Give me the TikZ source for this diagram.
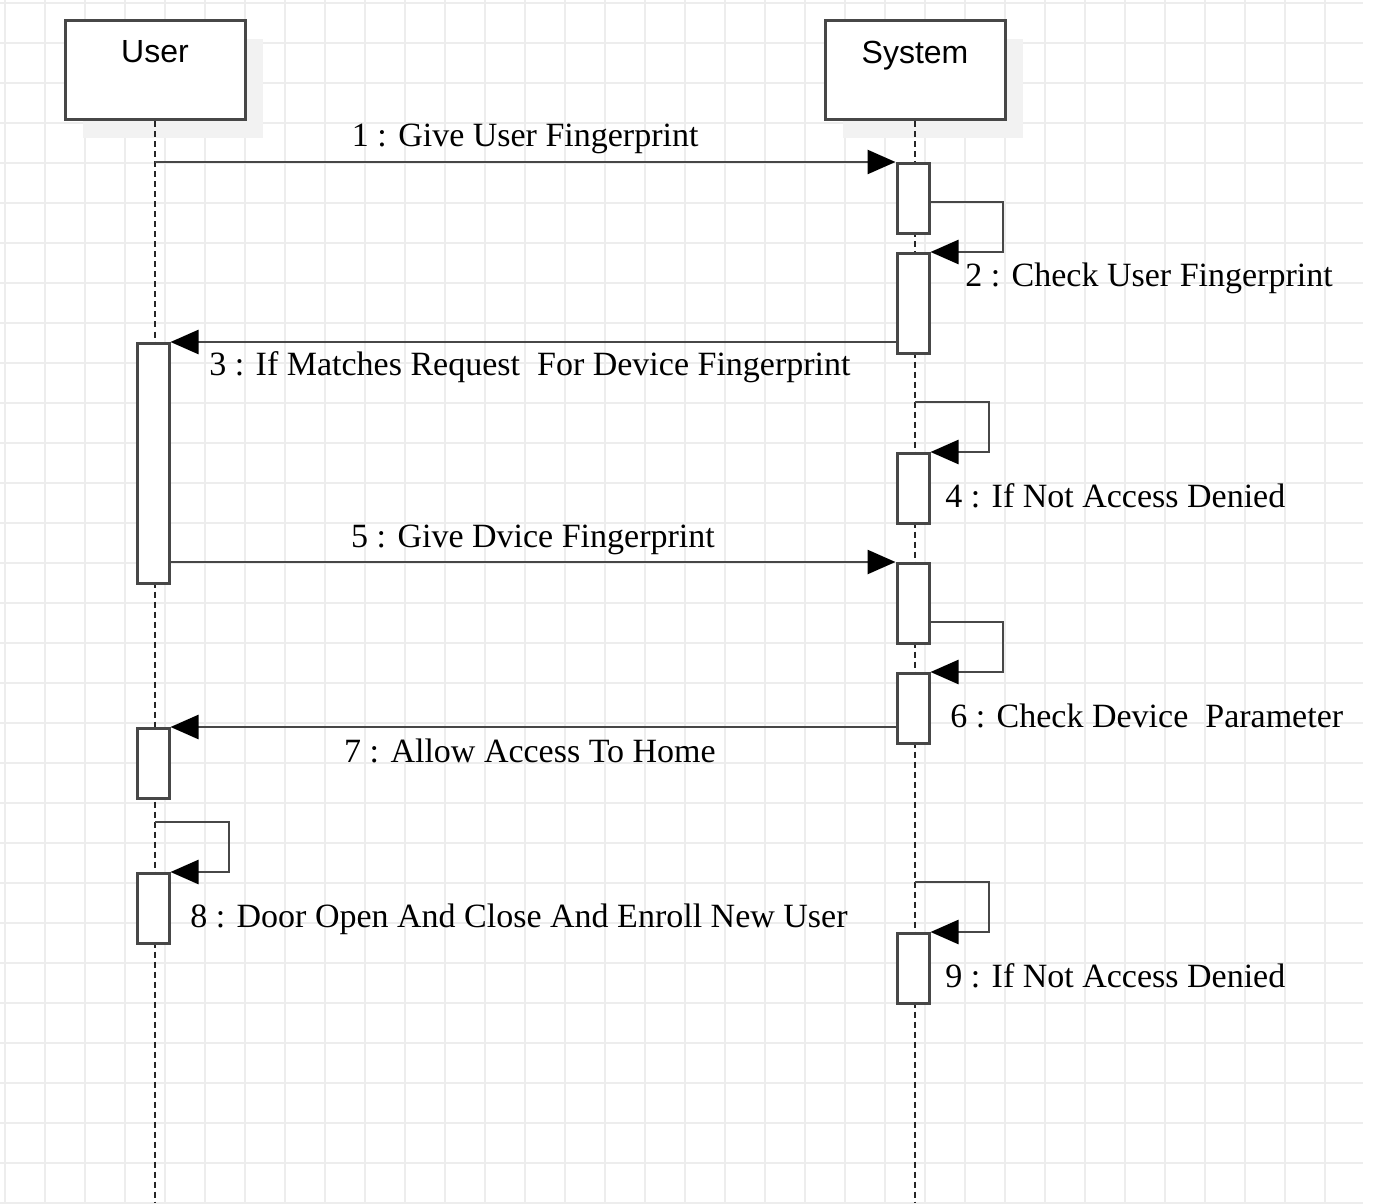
\documentclass[tikz,border=0pt]{standalone}
\usepackage{fontspec}
\setmainfont{Liberation Serif}
\newfontfamily\headfont{Liberation Sans}
\usetikzlibrary{
  arrows.meta,
  shadows,
  }

\tikzset{
  gridline/.style={draw=black!7, line width=0.8pt},
  lifehead/.style={draw=black!72, line width=1.5pt, fill=white,
    minimum width=90pt, minimum height=49.5pt, inner sep=0pt,
    general shadow={fill=black!5, shadow xshift=9pt, shadow yshift=-9pt}},
  headlabel/.style={font=\headfont\fontsize{16}{18}\selectfont,
    anchor=north, inner sep=0pt, yshift=-10.5pt},
  lifeline/.style={draw=black!85, line width=1pt, dash pattern=on 3pt off 2pt},
  act/.style={draw=black!72, line width=1.5pt, fill=white,
    minimum width=16pt, inner sep=0pt, anchor=north},
  msg/.style={draw=black!72, line width=1.3pt,
    -{Triangle[length=14pt, width=12pt, color=black]}},
  msglabel/.style={font=\fontsize{17}{19}\selectfont, inner sep=0pt, anchor=base},
}

\begin{document}
\begin{tikzpicture}[x=0.5pt, y=-0.5pt]
                    \useasboundingbox (0,0) rectangle (1395,1203);
                    \foreach \gx in {5,45,...,1325}
                        \draw[gridline] (\gx,0) -- (\gx,1203);
                    \foreach \gy in {3,43,...,1203}
                        \draw[gridline] (0,\gy) -- (1363,\gy);

                    \node[lifehead, label={[headlabel]north:User}] (user) at (155,70.5) {};
                    \node[lifehead, label={[headlabel]north:System}] (system) at (915,70.5) {};
                    \draw[lifeline] (user.south) -- (user.south |- 0,1203);
                    \draw[lifeline] (system.south) -- (system.south |- 0,1203);

                    \node[act, minimum height=35pt] (s1) at (913,162) {};
                    \node[act, minimum height=50pt] (s2) at (913,252) {};
                    \node[act, minimum height=120pt] (u3) at (153,342) {};
                    \node[act, minimum height=35pt] (s4) at (913,452) {};
                    \node[act, minimum height=40pt] (s5) at (913,562) {};
                    \node[act, minimum height=35pt] (s6) at (913,672) {};
                    \node[act, minimum height=35pt] (u7) at (153,727) {};
                    \node[act, minimum height=35pt] (u8) at (153,872) {};
                    \node[act, minimum height=35pt] (s9) at (913,932) {};

                    \draw[msg] (user.south |- s1.north) -- (s1.north west)
                        node[msglabel, midway, yshift=7.5pt] {1 : Give User Fingerprint};
                    \draw[msg] (s1.east |- 0,202) -- (1003,202) |- (s2.north east);
                    \node[msglabel, anchor=base west] (l2) at (965,287) {2 : Check User Fingerprint};
                    \draw[msg] (s2.west |- u3.north) -- (u3.north east)
                        node[msglabel, midway, xshift=-1.5pt, yshift=-16.5pt] {3 : If Matches Request\ \ For Device Fingerprint};
                    \draw[msg] (system.south |- 0,402) -- (989,402) |- (s4.north east);
                    \node[msglabel, anchor=base west] (l4) at (945,507) {4 : If Not Access Denied};
                    \draw[msg] (u3.east |- s5.north) -- (s5.north west)
                        node[msglabel, midway, yshift=7.5pt] {5 : Give Dvice Fingerprint};
                    \draw[msg] (s5.east |- 0,622) -- (1003,622) |- (s6.north east);
                    \node[msglabel, anchor=base west] (l6) at (950,727) {6 : Check Device\ \ Parameter};
                    \draw[msg] (s6.west |- u7.north) -- (u7.north east)
                        node[msglabel, midway, xshift=-1.5pt, yshift=-17.5pt] {7 : Allow Access To Home};
                    \draw[msg] (user.south |- 0,822) -- (229,822) |- (u8.north east);
                    \node[msglabel, anchor=base west] (l8) at (190,927) {8 : Door Open And Close And Enroll New User};
                    \draw[msg] (system.south |- 0,882) -- (989,882) |- (s9.north east);
                    \node[msglabel, anchor=base west] (l9) at (945,987) {9 : If Not Access Denied};
                \end{tikzpicture}
\end{document}
